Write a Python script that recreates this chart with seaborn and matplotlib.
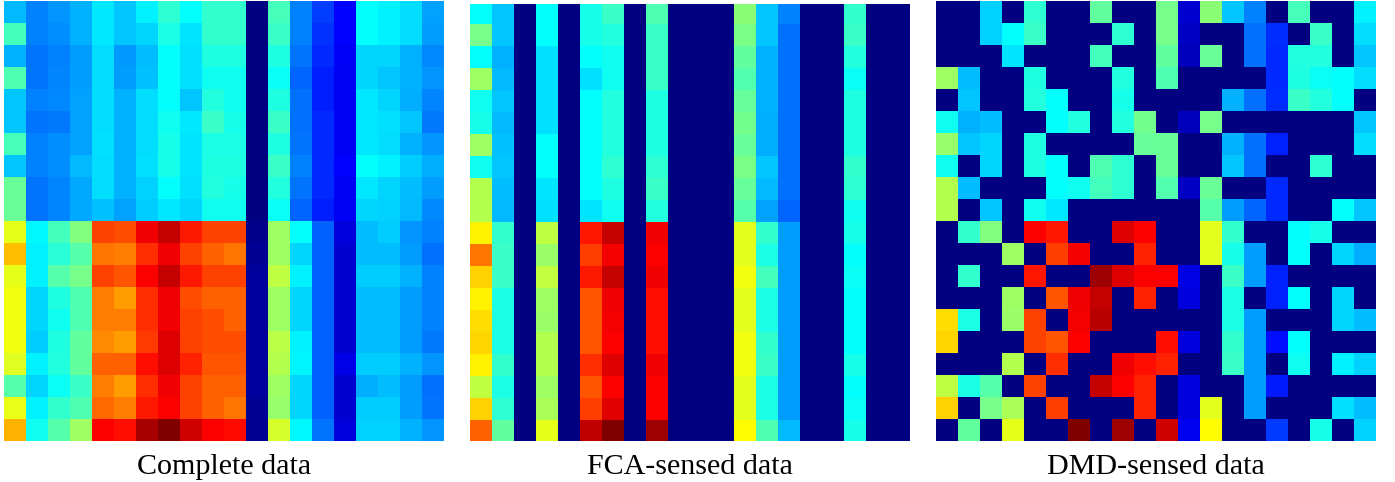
import numpy as np
import seaborn as sns
import matplotlib.pyplot as plt
from matplotlib.colors import LinearSegmentedColormap

# titles under the three panels
titles = ['Complete data', 'FCA-sensed data', 'DMD-sensed data']

complete = [
    [.305, .25, .27, .30, .355, .32, .36, .42, .375, .425, .425, 0, .445, .25, .185, .125, .375, .36, .34, .285],
    [.44, .25, .265, .30, .355, .32, .335, .40, .35, .425, .425, 0, .43, .25, .175, .125, .375, .36, .34, .28],
    [.30, .24, .25, .28, .34, .275, .31, .375, .345, .405, .405, 0, .405, .24, .165, .12, .335, .335, .30, .26],
    [.45, .24, .255, .28, .34, .28, .315, .375, .345, .39, .39, 0, .385, .225, .155, .115, .335, .32, .30, .27],
    [.32, .25, .26, .285, .34, .30, .34, .375, .32, .41, .39, 0, .405, .235, .155, .115, .355, .335, .295, .255],
    [.32, .24, .245, .285, .34, .30, .34, .39, .355, .43, .395, 0, .43, .235, .165, .115, .355, .345, .32, .245],
    [.445, .25, .265, .285, .345, .30, .34, .395, .35, .40, .40, 0, .405, .24, .165, .115, .355, .34, .30, .27],
    [.32, .25, .265, .305, .34, .30, .345, .395, .35, .405, .405, 0, .43, .25, .165, .125, .375, .36, .325, .295],
    [.48, .24, .255, .29, .34, .30, .33, .375, .345, .41, .395, 0, .41, .24, .165, .115, .355, .335, .31, .28],
    [.48, .24, .255, .29, .315, .285, .325, .355, .335, .39, .39, 0, .385, .225, .155, .115, .335, .33, .305, .26],
    [.60, .37, .44, .50, .81, .80, .89, .93, .85, .81, .81, .015, .53, .375, .22, .09, .31, .325, .27, .25],
    [.69, .36, .415, .46, .76, .75, .83, .89, .81, .78, .76, .02, .53, .335, .22, .08, .31, .31, .28, .235],
    [.60, .36, .46, .49, .81, .79, .875, .93, .85, .81, .81, .03, .56, .36, .22, .08, .325, .325, .30, .25],
    [.61, .335, .405, .45, .75, .72, .83, .89, .80, .78, .78, .03, .53, .335, .22, .08, .31, .31, .28, .25],
    [.61, .335, .39, .45, .75, .75, .83, .89, .81, .80, .78, .03, .53, .335, .22, .08, .31, .31, .28, .25],
    [.61, .325, .405, .47, .74, .72, .82, .91, .81, .80, .80, .03, .555, .36, .22, .08, .31, .31, .28, .245],
    [.59, .36, .41, .47, .78, .78, .86, .91, .84, .79, .79, .03, .55, .365, .22, .105, .325, .325, .30, .27],
    [.46, .335, .385, .43, .75, .72, .83, .89, .81, .78, .78, .03, .53, .335, .22, .08, .295, .31, .28, .235],
    [.605, .36, .425, .45, .77, .75, .85, .875, .81, .78, .76, .02, .52, .335, .22, .08, .325, .325, .28, .24],
    [.70, .39, .46, .53, .875, .86, .96, 1.0, .92, .875, .865, .02, .585, .37, .24, .09, .33, .33, .30, .27],
]

fca = [
    [.375, .32, 0, .375, 0, .395, .43, 0, .45, 0, 0, 0, .51, .32, .25, 0, 0, .425, 0, 0],
    [.49, .32, 0, .375, 0, .395, .41, 0, .43, 0, 0, 0, .495, .32, .235, 0, 0, .43, 0, 0],
    [.375, .30, 0, .345, 0, .375, .39, 0, .43, 0, 0, 0, .47, .30, .235, 0, 0, .41, 0, 0],
    [.53, .305, 0, .345, 0, .345, .39, 0, .43, 0, 0, 0, .455, .30, .235, 0, 0, .385, 0, 0],
    [.39, .32, 0, .345, 0, .375, .41, 0, .405, 0, 0, 0, .475, .30, .235, 0, 0, .405, 0, 0],
    [.395, .305, 0, .345, 0, .375, .41, 0, .405, 0, 0, 0, .485, .295, .235, 0, 0, .405, 0, 0],
    [.53, .315, 0, .375, 0, .375, .41, 0, .405, 0, 0, 0, .475, .295, .235, 0, 0, .405, 0, 0],
    [.39, .32, 0, .375, 0, .375, .42, 0, .42, 0, 0, 0, .495, .32, .235, 0, 0, .425, 0, 0],
    [.55, .31, 0, .35, 0, .375, .405, 0, .43, 0, 0, 0, .475, .305, .235, 0, 0, .42, 0, 0],
    [.55, .305, 0, .345, 0, .35, .39, 0, .41, 0, 0, 0, .46, .285, .225, 0, 0, .39, 0, 0],
    [.64, .425, 0, .56, 0, .855, .93, 0, .89, 0, 0, 0, .595, .425, .28, 0, 0, .395, 0, 0],
    [.76, .43, 0, .525, 0, .815, .885, 0, .875, 0, 0, 0, .595, .40, .28, 0, 0, .375, 0, 0],
    [.67, .43, 0, .565, 0, .85, .93, 0, .89, 0, 0, 0, .61, .44, .28, 0, 0, .385, 0, 0],
    [.64, .40, 0, .53, 0, .79, .89, 0, .86, 0, 0, 0, .595, .40, .28, 0, 0, .375, 0, 0],
    [.66, .40, 0, .525, 0, .79, .885, 0, .86, 0, 0, 0, .595, .40, .28, 0, 0, .375, 0, 0],
    [.665, .40, 0, .55, 0, .79, .875, 0, .86, 0, 0, 0, .61, .425, .28, 0, 0, .375, 0, 0],
    [.64, .425, 0, .55, 0, .83, .91, 0, .89, 0, 0, 0, .61, .43, .28, 0, 0, .395, 0, 0],
    [.56, .40, 0, .53, 0, .79, .875, 0, .875, 0, 0, 0, .595, .40, .28, 0, 0, .375, 0, 0],
    [.67, .42, 0, .54, 0, .815, .905, 0, .875, 0, 0, 0, .595, .40, .28, 0, 0, .385, 0, 0],
    [.78, .47, 0, .60, 0, .935, 1.0, 0, .97, 0, 0, 0, .625, .45, .305, 0, 0, .395, 0, 0],
]

dmd = [
    [0, 0, .33, 0, .42, 0, 0, .47, 0, 0, .49, .08, .51, .32, .25, 0, .445, 0, 0, .36],
    [0, 0, .33, .375, .43, 0, 0, 0, .42, 0, .49, .07, 0, 0, .235, .17, 0, .43, 0, .34],
    [0, 0, 0, .35, 0, 0, 0, .44, 0, 0, .47, .06, .48, 0, .235, .165, .41, .41, 0, .32],
    [.53, .31, 0, 0, .405, 0, 0, 0, .41, 0, .45, 0, 0, 0, 0, .165, .405, .385, .375, .34],
    [0, .32, 0, 0, .41, .375, 0, 0, .395, 0, 0, 0, 0, .30, .235, .17, .43, .41, .375, 0],
    [.39, .30, .31, 0, 0, .375, .41, 0, .41, .485, 0, .06, .49, 0, 0, 0, 0, 0, 0, .32],
    [.52, .32, .335, 0, .405, 0, 0, 0, 0, .475, .48, 0, 0, .30, .235, .16, 0, 0, 0, .34],
    [.39, 0, .335, 0, .405, .375, 0, .45, .42, 0, .48, 0, 0, .32, .235, 0, 0, .42, 0, 0],
    [.55, .31, 0, 0, 0, .375, .39, .44, .42, 0, .455, .07, .48, 0, 0, .165, 0, 0, 0, 0],
    [.55, 0, .32, 0, .39, .355, 0, 0, 0, 0, 0, 0, .46, .28, .225, .165, 0, 0, .375, .32],
    [0, .425, .50, 0, .875, .855, 0, 0, .91, .875, 0, 0, .595, .425, 0, 0, .375, .395, 0, 0],
    [0, 0, 0, .53, 0, .815, .885, 0, 0, .84, 0, 0, .595, .395, .28, 0, .375, 0, .335, .295],
    [0, .425, 0, 0, .855, 0, 0, .97, .91, .875, .875, .10, 0, .43, .28, .16, 0, 0, 0, 0],
    [0, 0, 0, .53, 0, .79, .89, .93, 0, .84, 0, .09, 0, .40, 0, .16, .375, 0, .335, 0],
    [.66, .40, 0, .525, .81, 0, .885, .945, 0, 0, 0, 0, 0, .40, .28, 0, 0, 0, .335, .31],
    [.665, 0, 0, 0, .81, .79, .875, 0, 0, 0, .86, .09, 0, .425, .28, .14, .375, 0, 0, 0],
    [0, 0, 0, .55, 0, .83, 0, 0, .89, .86, .84, 0, 0, .43, .28, 0, .39, 0, .36, .33],
    [.56, .40, .46, 0, .81, 0, 0, .93, .875, .84, 0, .09, 0, 0, .28, .15, 0, 0, 0, 0],
    [.67, 0, .49, .54, 0, .815, 0, 0, 0, .84, 0, .09, .595, 0, .28, 0, 0, 0, .345, .31],
    [0, .47, 0, .60, 0, 0, 1.0, 0, .97, 0, .92, .11, .625, 0, 0, .18, 0, .395, 0, .33],
]

# MATLAB style jet, matplotlib's own one has its stops in other places
jet_m = LinearSegmentedColormap.from_list('jet_m', [
    (0, '#000080'), (.125, '#0000ff'), (.375, '#00ffff'), (.625, '#ffff00'),
    (.875, '#ff0000'), (1, '#800000')])

W, H = 1395, 482
fig = plt.figure(figsize=(W / 100, H / 100), dpi=100)
plt.rcParams['font.family'] = ['Liberation Serif', 'DejaVu Serif']

# left, right, top, bottom of each panel in pixels, first rows are clipped a bit
boxes = [(4, 444, 0.7, 440.7), (470, 910, 4, 440.7), (936, 1376, 0.7, 440.7)]
ylims = [(20, 0), (19.95, 0.1), (20, 0)]

for data, title, (l, r, t, b), ylim in zip([complete, fca, dmd], titles, boxes, ylims):
    ax = fig.add_axes([l / W, 1 - b / H, (r - l) / W, (b - t) / H])
    sns.heatmap(np.array(data), ax=ax, cmap=jet_m, vmin=0, vmax=1, cbar=False,
                xticklabels=False, yticklabels=False)
    ax.set_ylim(*ylim)
    fig.text((l + r) / 2 / W, 1 - 467 / H, title, ha='center', va='center',
             fontsize=21.6, color='black', family=['Liberation Serif', 'DejaVu Serif'])

fig.savefig('out.png', dpi=100)
